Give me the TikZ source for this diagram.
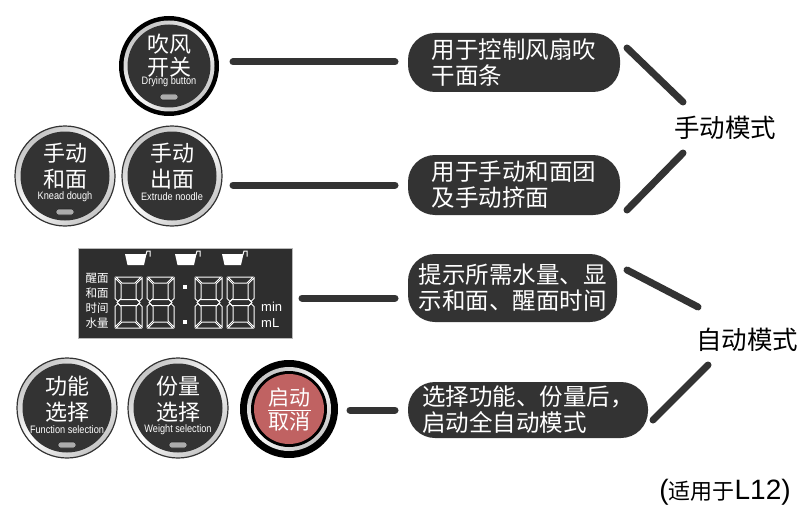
\documentclass[tikz,border=0pt]{standalone}
\usepackage{fontspec}
\setmainfont{Noto Sans CJK SC}
\newfontfamily\lat{Liberation Sans}
\newfontfamily\narr[FakeStretch=0.85]{Liberation Sans}
\definecolor{dk}{HTML}{333333}
\definecolor{lcdbg}{HTML}{2E2E2E}
\definecolor{redbtn}{HTML}{C06262}
\tikzset{
 conn/.style={draw=dk, line width=7pt, line cap=round},
 pill/.style={fill=dk, rounded corners=27pt, text=white, align=left, inner sep=0pt, font=\fontsize{23.5}{26}\selectfont},
 ring/.style={circle, inner sep=0pt, shading=axis, top color=gray!45, bottom color=gray!45, middle color=white, shading angle=40},
 face/.style={circle, inner sep=0pt, fill=dk},
 btntxt/.style={text=white, inner sep=0pt, font=\fontsize{22}{23}\selectfont},
 entxt/.style={text=white, inner sep=0pt, font=\narr\fontsize{10.8}{11}\selectfont},
 ind/.style={fill=gray!65, draw=gray!30!black, line width=0.6pt, rounded corners=2.5pt, minimum width=18pt, minimum height=6pt, inner sep=0pt},
 segl/.style={draw=white, line width=1pt, line join=miter},
 lcdlbl/.style={text=white, inner sep=0pt, font=\fontsize{11.5}{12}\selectfont},
 unitlbl/.style={text=white, inner sep=0pt, anchor=west, font=\lat\fontsize{13}{14}\selectfont},
 modelbl/.style={inner sep=0pt, font=\fontsize{25.5}{27}\selectfont},
}
\newcommand\segdigit[2]{%
 \begin{scope}[shift={(#1,#2)}]
  \draw[segl] (1,0) -- (26,0) -- (20,6) -- (7,6) -- cycle;
  \draw[segl] (1,51) -- (26,51) -- (20,45) -- (7,45) -- cycle;
  \draw[segl] (2,25.5) -- (5,22.5) -- (22,22.5) -- (25,25.5) -- (22,28.5) -- (5,28.5) -- cycle;
  \draw[segl] (0,1) -- (6,7) -- (6,21.5) -- (3,24.5) -- (0,21.5) -- cycle;
  \draw[segl] (0,50) -- (6,44) -- (6,29.5) -- (3,26.5) -- (0,29.5) -- cycle;
  \draw[segl] (27,1) -- (21,7) -- (21,21.5) -- (24,24.5) -- (27,21.5) -- cycle;
  \draw[segl] (27,50) -- (21,44) -- (21,29.5) -- (24,26.5) -- (27,29.5) -- cycle;
 \end{scope}}
\newcommand\cupicon[1]{%
 \begin{scope}[shift={(#1,0)}]
  \fill[white] (-12.5,254) -- (9,254) -- (6.5,265) -- (-10,265) -- cycle;
  \draw[white, line width=1pt] (8.5,254.5) -- (9.5,251) -- (12.5,251) -- (12.5,256.5);
 \end{scope}}
\begin{document}
\begin{tikzpicture}[x=1pt,y=-1pt]
\path[use as bounding box, fill=white] (0,0) rectangle (805,508);

% ---------- Button A: drying (selected) ----------
\node[circle, fill=black, minimum size=100pt, inner sep=0pt] (btnA) at (169,66) {};
\node[ring, minimum size=91pt] (btnAring) at (169,66) {};
\node[face, minimum size=83pt] (btnAface) at (169,66) {};
\node[btntxt] (tA1) at (169,44) {吹风};
\node[btntxt] (tA2) at (169,67) {开关};
\node[entxt] (tA3) at (169,82) {Drying button};
\node[ind] (iA) at (169,97) {};

% ---------- Button B ----------
\node[ring, draw=black!80, line width=1.2pt, minimum size=100pt] (btnB) at (65,176) {};
\node[face, minimum size=89pt] (btnBface) at (65,176) {};
\node[btntxt] (tB1) at (65,153) {手动};
\node[btntxt] (tB2) at (65,179) {和面};
\node[entxt] (tB3) at (65,197) {Knead dough};
\node[ind] (iB) at (65,212) {};

% ---------- Button C ----------
\node[ring, draw=black!80, line width=1.2pt, minimum size=100pt] (btnC) at (172,176) {};
\node[face, minimum size=89pt] (btnCface) at (172,176) {};
\node[btntxt] (tC1) at (172,153) {手动};
\node[btntxt] (tC2) at (172,179) {出面};
\node[entxt] (tC3) at (172,197) {Extrude noodle};

% ---------- Button D ----------
\node[ring, draw=black!80, line width=1.2pt, minimum size=100pt] (btnD) at (67,408) {};
\node[face, minimum size=89pt] (btnDface) at (67,408) {};
\node[btntxt] (tD1) at (67,386) {功能};
\node[btntxt] (tD2) at (67,412) {选择};
\node[entxt] (tD3) at (67,430) {Function selection};
\node[ind] (iD) at (67,445) {};

% ---------- Button E ----------
\node[ring, draw=black!80, line width=1.2pt, minimum size=100pt] (btnE) at (178,408) {};
\node[face, minimum size=89pt] (btnEface) at (178,408) {};
\node[btntxt] (tE1) at (178,386) {份量};
\node[btntxt] (tE2) at (178,412) {选择};
\node[entxt] (tE3) at (178,430) {Weight selection};
\node[ind] (iE) at (178,445) {};

% ---------- Button F: start/cancel ----------
\node[circle, fill=black, minimum size=98pt, inner sep=0pt] (btnF) at (289,409) {};
\node[ring, minimum size=84pt] (btnFring) at (289,409) {};
\node[circle, fill=black, minimum size=76pt, inner sep=0pt] (btnFin) at (289,409) {};
\node[circle, fill=redbtn, minimum size=70pt, inner sep=0pt] (btnFface) at (289,409) {};
\node[btntxt, font=\fontsize{21}{22}\selectfont] (tF1) at (289,398) {启动};
\node[btntxt, font=\fontsize{21}{22}\selectfont] (tF2) at (289,422) {取消};
\coordinate (fl1) at (268,410);
\coordinate (fl2) at (311,410);
\draw[white, line width=1pt] (fl1) -- (fl2);

% ---------- LCD ----------
\node[fill=lcdbg, draw=gray!55, line width=0.8pt, minimum width=214pt, minimum height=90pt, inner sep=0pt] (lcd) at (185,293) {};
\cupicon{137.5}
\cupicon{187.5}
\cupicon{234.5}
\node[lcdlbl] (l1) at (97,278) {醒面};
\node[lcdlbl] (l2) at (97,293) {和面};
\node[lcdlbl] (l3) at (97,308) {时间};
\node[lcdlbl] (l4) at (97,323) {水量};
\segdigit{115}{277}
\segdigit{147}{277}
\segdigit{195}{277}
\segdigit{227}{277}
\fill[white] (183,285) rectangle (187,289);
\fill[white] (183,320) rectangle (187,324);
\node[unitlbl] (u1) at (261,307) {min};
\node[unitlbl] (u2) at (261,323) {mL};

% ---------- Pills ----------
\node[pill, minimum width=212pt, minimum height=59pt] (p1) at (514,62.5) {用于控制风扇吹\\干面条};
\node[pill, minimum width=212pt, minimum height=60pt] (p2) at (514,185) {用于手动和面团\\及手动挤面};
\node[pill, minimum width=209pt, minimum height=68pt] (p3) at (512.5,288) {提示所需水量、显\\示和面、醒面时间};
\node[pill, minimum width=240pt, minimum height=56pt] (p4) at (528,410) {选择功能、份量后，\\启动全自动模式};

% ---------- horizontal connectors ----------
\coordinate (h1a) at (233,62);  \coordinate (h1b) at (395,62);
\coordinate (h2a) at (233,185); \coordinate (h2b) at (395,185);
\coordinate (h3a) at (302,298); \coordinate (h3b) at (395,298);
\coordinate (h4a) at (350,410); \coordinate (h4b) at (395,410);
\draw[conn] (h1a) -- (h1b);
\draw[conn] (h2a) -- (h2b);
\draw[conn] (h3a) -- (h3b);
\draw[conn] (h4a) -- (h4b);

% ---------- mode labels and diagonals ----------
\node[modelbl] (m1) at (725,128) {手动模式};
\node[modelbl] (m2) at (747,340) {自动模式};
\coordinate (d1a) at (627,48);  \coordinate (d1b) at (683,102);
\coordinate (d2a) at (683,153); \coordinate (d2b) at (627,210);
\coordinate (d3a) at (627,270); \coordinate (d3b) at (698,307);
\coordinate (d4a) at (708,365); \coordinate (d4b) at (653,420);
\draw[conn] (d1a) -- (d1b);
\draw[conn] (d2a) -- (d2b);
\draw[conn] (d3a) -- (d3b);
\draw[conn] (d4a) -- (d4b);

% ---------- footer ----------
\node[inner sep=0pt, font=\fontsize{22}{23}\selectfont] (foot) at (725,492) {{\lat\fontsize{28}{29}\selectfont (}适用于{\lat\fontsize{28}{29}\selectfont L12)}};
\end{tikzpicture}
\end{document}
